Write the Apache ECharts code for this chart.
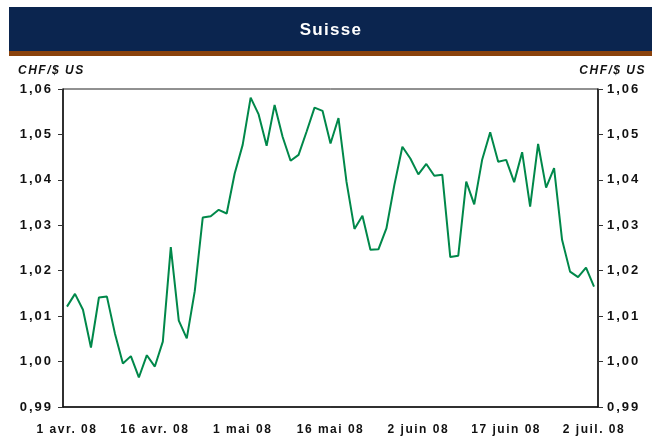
<!DOCTYPE html>
<html>
<head>
    <meta charset="UTF-8">
    <title>Suisse</title>
    <script src="https://cdn.jsdelivr.net/npm/echarts@6/dist/echarts.min.js"></script>
    <style>
        html, body { margin: 0; padding: 0; background: #fff; }
        #chart { width: 652px; height: 440px; }
    </style>
</head>
<body>
    <div id="chart"></div>
    <script>
        // jours ouvrables, 1 avr. 08 -> 2 juil. 08
        const dates = [
            '1 avr. 08', '2 avr. 08', '3 avr. 08', '4 avr. 08', '7 avr. 08', '8 avr. 08', '9 avr. 08',
            '10 avr. 08', '11 avr. 08', '14 avr. 08', '15 avr. 08', '16 avr. 08', '17 avr. 08', '18 avr. 08',
            '21 avr. 08', '22 avr. 08', '23 avr. 08', '24 avr. 08', '25 avr. 08', '28 avr. 08', '29 avr. 08',
            '30 avr. 08',
            '1 mai 08', '2 mai 08', '5 mai 08', '6 mai 08', '7 mai 08', '8 mai 08', '9 mai 08',
            '12 mai 08', '13 mai 08', '14 mai 08', '15 mai 08', '16 mai 08', '19 mai 08', '20 mai 08',
            '21 mai 08', '22 mai 08', '23 mai 08', '26 mai 08', '27 mai 08', '28 mai 08', '29 mai 08',
            '30 mai 08',
            '2 juin 08', '3 juin 08', '4 juin 08', '5 juin 08', '6 juin 08', '9 juin 08', '10 juin 08',
            '11 juin 08', '12 juin 08', '13 juin 08', '16 juin 08', '17 juin 08', '18 juin 08', '19 juin 08',
            '20 juin 08', '23 juin 08', '24 juin 08', '25 juin 08', '26 juin 08', '27 juin 08', '30 juin 08',
            '1 juil. 08', '2 juil. 08'
        ];

        // CHF par dollar US
        const chfUsd = [
            1.0121, 1.0149, 1.0114, 1.0031, 1.0141, 1.0143, 1.0062, 0.9996, 1.0012, 0.9965,
            1.0014, 0.9989, 1.0044, 1.0252, 1.0090, 1.0051, 1.0155, 1.0317, 1.0320, 1.0334,
            1.0326, 1.0414, 1.0477, 1.0581, 1.0544, 1.0475, 1.0565, 1.0495, 1.0442, 1.0455,
            1.0506, 1.0559, 1.0552, 1.0480, 1.0536, 1.0396, 1.0292, 1.0321, 1.0246, 1.0247,
            1.0293, 1.0389, 1.0473, 1.0447, 1.0412, 1.0435, 1.0409, 1.0411, 1.0230, 1.0233,
            1.0396, 1.0346, 1.0445, 1.0505, 1.0440, 1.0444, 1.0395, 1.0461, 1.0341, 1.0479,
            1.0383, 1.0426, 1.0268, 1.0198, 1.0186, 1.0207, 1.0165
        ];

        const yMin = 0.99, yMax = 1.06, yStep = 0.01;
        const unitLabel = 'CHF/$ US';
        const titre = 'Suisse';

        const fontFam = '"Liberation Sans", Arial, sans-serif';
        const fmt = v => v.toFixed(2).replace('.', ',');

        // le graphique d'origine a des textes un peu espacés : on ajoute un
        // letterSpacing selon la taille de police (mesure comprise)
        const spacing = { 12: '1.5px', 13: '2px', 17: '1.3px' };
        const fontDesc = Object.getOwnPropertyDescriptor(CanvasRenderingContext2D.prototype, 'font');
        if (fontDesc && 'letterSpacing' in CanvasRenderingContext2D.prototype) {
            Object.defineProperty(CanvasRenderingContext2D.prototype, 'font', {
                configurable: true,
                get() { return fontDesc.get.call(this); },
                set(v) {
                    fontDesc.set.call(this, v);
                    const m = /(\d+(?:\.\d+)?)px/.exec(v);
                    this.letterSpacing = (m && spacing[m[1]]) || '0px';
                }
            });
        }

        function yAxisCfg(pos, margin) {
            return {
                type: 'value',
                position: pos,
                min: yMin, max: yMax, interval: yStep,
                axisLine: { show: true, lineStyle: { color: '#111', width: 1.5 } },
                axisTick: { show: true, length: 5, lineStyle: { color: '#333' } },
                splitLine: { show: false },
                axisLabel: {
                    margin: margin,
                    formatter: fmt,
                    color: '#111',
                    fontFamily: fontFam,
                    fontWeight: 'bold',
                    fontSize: 13
                }
            };
        }

        const chart = echarts.init(document.getElementById('chart'));
        chart.setOption({
            animation: false,
            backgroundColor: '#fff',
            grid: {
                left: 63, right: 54, top: 89, bottom: 33,
                show: true, borderColor: '#222', borderWidth: 1
            },
            graphic: [
                { type: 'rect', shape: { x: 9, y: 7, width: 643, height: 44 }, style: { fill: '#0b254f' } },
                { type: 'rect', shape: { x: 9, y: 51, width: 643, height: 5 }, style: { fill: '#8a420c' } },
                {
                    type: 'text', x: 331, y: 30,
                    style: {
                        text: titre, fill: '#fff', font: 'bold 17px ' + fontFam,
                        textAlign: 'center', textVerticalAlign: 'middle'
                    }
                },
                {
                    type: 'text', x: 18, y: 71,
                    style: {
                        text: unitLabel, fill: '#111', font: 'italic bold 12px ' + fontFam,
                        textAlign: 'left', textVerticalAlign: 'middle'
                    }
                },
                {
                    type: 'text', x: 646, y: 71,
                    style: {
                        text: unitLabel, fill: '#111', font: 'italic bold 12px ' + fontFam,
                        textAlign: 'right', textVerticalAlign: 'middle'
                    }
                }
            ],
            xAxis: {
                type: 'category',
                data: dates,
                boundaryGap: true,
                axisLine: { lineStyle: { color: '#111', width: 1.5 } },
                axisTick: { show: false },
                axisLabel: {
                    interval: 10,
                    margin: 16,
                    color: '#111',
                    fontFamily: fontFam,
                    fontWeight: 'bold',
                    fontSize: 12
                }
            },
            yAxis: [yAxisCfg('left', 10), yAxisCfg('right', 9)],
            series: [{
                type: 'line',
                data: chfUsd,
                showSymbol: false,
                lineStyle: { color: '#00884a', width: 2 },
                itemStyle: { color: '#00884a' }
            }]
        });
    </script>
</body>
</html>
